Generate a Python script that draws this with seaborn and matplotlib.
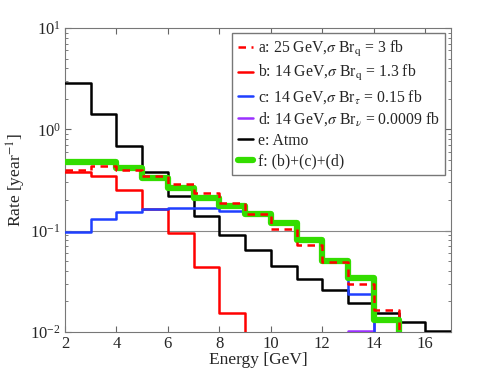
import numpy as np
import pandas as pd
import matplotlib
matplotlib.use("Agg")
import matplotlib.pyplot as plt
import seaborn as sns

# bin lower edges, 1 GeV wide
edges = np.arange(2, 17)          # 2 .. 16
bin_width = 1

# a: 25 GeV, sigma Br_q = 3 fb (dashed red)
rate_a = [0.395, 0.434, 0.395, 0.35, 0.29, 0.238, 0.186, 0.145, 0.104, 0.0726,
          0.0486, 0.0297, 0.0166, np.nan, np.nan]
# b: 14 GeV, sigma Br_q = 1.3 fb
rate_b = [0.38, 0.35, 0.25, 0.164, 0.095, 0.0437, 0.0153, np.nan, np.nan, np.nan,
          np.nan, np.nan, np.nan, np.nan, np.nan]
# c: 14 GeV, sigma Br_tau = 0.15 fb
rate_c = [0.097, 0.131, 0.152, 0.164, 0.168, 0.168, 0.155, 0.147, 0.119, 0.0815,
          0.0505, 0.0238, np.nan, np.nan, np.nan]
# d: 14 GeV, sigma Br_nu = 0.0009 fb
rate_d = [np.nan, np.nan, np.nan, np.nan, np.nan, np.nan, np.nan, np.nan, np.nan, np.nan,
          np.nan, 0.0102, 0.0131, np.nan, np.nan]
# e: atmospheric background
rate_e = [2.88, 1.41, 0.69, 0.378, 0.222, 0.138, 0.091, 0.064, 0.045, 0.033,
          0.0257, 0.0195, 0.0153, 0.0126, 0.0103]
# f: (b)+(c)+(d)
rate_f = [0.48, 0.475, 0.417, 0.331, 0.263, 0.209, 0.177, 0.147, 0.119, 0.0815,
          0.0505, 0.0339, 0.0131, np.nan, np.nan]

labels = [
    r"a: 25 GeV,$\sigma$ Br$_\mathrm{q}$ = 3 fb",
    r"b: 14 GeV,$\sigma$ Br$_\mathrm{q}$ = 1.3 fb",
    r"c: 14 GeV,$\sigma$ Br$_\tau$ = 0.15 fb",
    r"d: 14 GeV,$\sigma$ Br$_\nu$ = 0.0009 fb",
    "e: Atmo",
    "f: (b)+(c)+(d)",
]

FLOOR = 1e-6  # below the axis, used to draw the drop at the end of a histogram


def step_frame(values):
    # histogram outline: one point per bin edge, zero-height bins drop off the axis
    vals = np.array(values, dtype=float)
    vals = np.where(np.isnan(vals), FLOOR, vals)
    x = np.append(edges, edges[-1] + bin_width)
    y = np.append(vals, vals[-1])
    return pd.DataFrame({"Energy": x, "Rate": y})


sns.set_style("ticks")
plt.rcParams["font.family"] = ["Liberation Serif", "DejaVu Serif"]
plt.rcParams["mathtext.fontset"] = "stix"

fig = plt.figure(figsize=(4.98, 3.74), dpi=100)
ax = fig.add_axes([0.1305, 0.1123, 0.775, 0.8128])

ax.axhline(0.1, color="#888888", lw=0.8, zorder=1)

styles = [
    dict(color="#ff0000", lw=1.8, ls=(0, (3, 2.2)), zorder=6),
    dict(color="#ff0000", lw=1.8, zorder=3),
    dict(color="#1f3fff", lw=1.8, zorder=4),
    dict(color="#9b30ff", lw=1.8, zorder=3),
    dict(color="black", lw=1.8, zorder=3),
    dict(color="#33dd00", lw=4.5, zorder=5),
]
series = [rate_a, rate_b, rate_c, rate_d, rate_e, rate_f]

for vals, lab, st in zip(series, labels, styles):
    df = step_frame(vals)
    sns.lineplot(data=df, x="Energy", y="Rate", drawstyle="steps-post",
                 label=lab, ax=ax, estimator=None, sort=False, **st)

ax.set_yscale("log")
ax.set_xlim(2, 17)
ax.set_ylim(1e-2, 1e1)
ax.set_xticks([2, 4, 6, 8, 10, 12, 14, 16])
ax.set_xlabel("Energy [GeV]", fontsize=12.5, labelpad=0)
ax.set_ylabel(r"Rate [year$^{-1}$]", fontsize=12.5, labelpad=2)
ax.tick_params(which="both", direction="in", top=True, right=True,
               labelsize=12, color="#666666", pad=3)
ax.tick_params(which="major", length=4)
ax.tick_params(which="minor", length=2)
for sp in ax.spines.values():
    sp.set_color("#777777")
    sp.set_linewidth(0.8)

leg = ax.legend(loc="upper right", fontsize=11.3, handlelength=1.0,
                handletextpad=0.3, labelspacing=0.3, borderpad=0.35,
                borderaxespad=0, fancybox=False, framealpha=1,
                edgecolor="#777777", bbox_to_anchor=(0.985, 0.983))
leg.get_frame().set_linewidth(1.0)

fig.savefig("out.png", dpi=100)
